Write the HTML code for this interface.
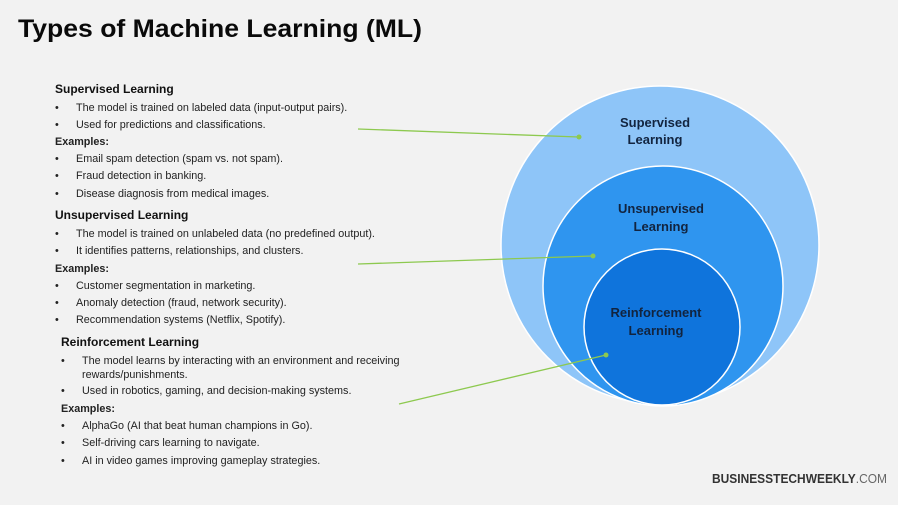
<!DOCTYPE html>
<html><head><meta charset="utf-8"><style>
html,body{margin:0;padding:0;background:#f2f2f2;}
svg{display:block;}
text{font-family:"Liberation Sans",Arial,sans-serif;}
.h{font-weight:bold;font-size:12px;fill:#111;}
.b{font-size:10.8px;fill:#222;}
.c{font-weight:bold;font-size:13px;fill:#12243f;text-anchor:middle;}
</style></head><body>
<svg width="898" height="505" viewBox="0 0 898 505" xmlns="http://www.w3.org/2000/svg">
<rect width="898" height="505" fill="#f2f2f2"/>
<text x="18" y="37" font-size="25" font-weight="bold" fill="#0a0a0a" textLength="404" lengthAdjust="spacingAndGlyphs">Types of Machine Learning (ML)</text>

<circle cx="660" cy="245" r="159" fill="#8ec5f8" stroke="#ffffff" stroke-width="1.5"/>
<circle cx="663" cy="286" r="120" fill="#2f95ef" stroke="#ffffff" stroke-width="1.5"/>
<circle cx="662" cy="327" r="78" fill="#0f74dc" stroke="#ffffff" stroke-width="1.5"/>
<text class="c" x="655" y="127">Supervised</text>
<text class="c" x="655" y="144">Learning</text>
<text class="c" x="661" y="213">Unsupervised</text>
<text class="c" x="661" y="231">Learning</text>
<text class="c" x="656" y="317">Reinforcement</text>
<text class="c" x="656" y="335">Learning</text>

<g stroke="#8dc94f" stroke-width="1.3">
<line x1="358" y1="129" x2="579" y2="137"/>
<line x1="358" y1="264" x2="593" y2="256"/>
<line x1="399" y1="404" x2="606" y2="355"/>
</g>
<g fill="#8dc94f"><circle cx="579" cy="137" r="2.5"/><circle cx="593" cy="256" r="2.5"/><circle cx="606" cy="355" r="2.5"/></g>

<text class="h" x="55" y="93">Supervised Learning</text>
<g class="b">
<text x="55" y="111">•</text><text x="76" y="111">The model is trained on labeled data (input-output pairs).</text>
<text x="55" y="128">•</text><text x="76" y="128">Used for predictions and classifications.</text>
<text x="55" y="145" font-weight="bold">Examples:</text>
<text x="55" y="162">•</text><text x="76" y="162">Email spam detection (spam vs. not spam).</text>
<text x="55" y="179">•</text><text x="76" y="179">Fraud detection in banking.</text>
<text x="55" y="197">•</text><text x="76" y="197">Disease diagnosis from medical images.</text>
</g>

<text class="h" x="55" y="219">Unsupervised Learning</text>
<g class="b">
<text x="55" y="237">•</text><text x="76" y="237">The model is trained on unlabeled data (no predefined output).</text>
<text x="55" y="254">•</text><text x="76" y="254">It identifies patterns, relationships, and clusters.</text>
<text x="55" y="272" font-weight="bold">Examples:</text>
<text x="55" y="289">•</text><text x="76" y="289">Customer segmentation in marketing.</text>
<text x="55" y="306">•</text><text x="76" y="306">Anomaly detection (fraud, network security).</text>
<text x="55" y="323">•</text><text x="76" y="323">Recommendation systems (Netflix, Spotify).</text>
</g>

<text class="h" x="61" y="346">Reinforcement Learning</text>
<g class="b">
<text x="61" y="364">•</text><text x="82" y="364">The model learns by interacting with an environment and receiving</text>
<text x="82" y="378">rewards/punishments.</text>
<text x="61" y="394">•</text><text x="82" y="394">Used in robotics, gaming, and decision-making systems.</text>
<text x="61" y="412" font-weight="bold">Examples:</text>
<text x="61" y="429">•</text><text x="82" y="429">AlphaGo (AI that beat human champions in Go).</text>
<text x="61" y="446">•</text><text x="82" y="446">Self-driving cars learning to navigate.</text>
<text x="61" y="464">•</text><text x="82" y="464">AI in video games improving gameplay strategies.</text>
</g>

<text x="712" y="483" font-size="13" fill="#333" textLength="175" lengthAdjust="spacingAndGlyphs"><tspan font-weight="bold">BUSINESSTECHWEEKLY</tspan><tspan fill="#666">.COM</tspan></text>
</svg>
</body></html>
